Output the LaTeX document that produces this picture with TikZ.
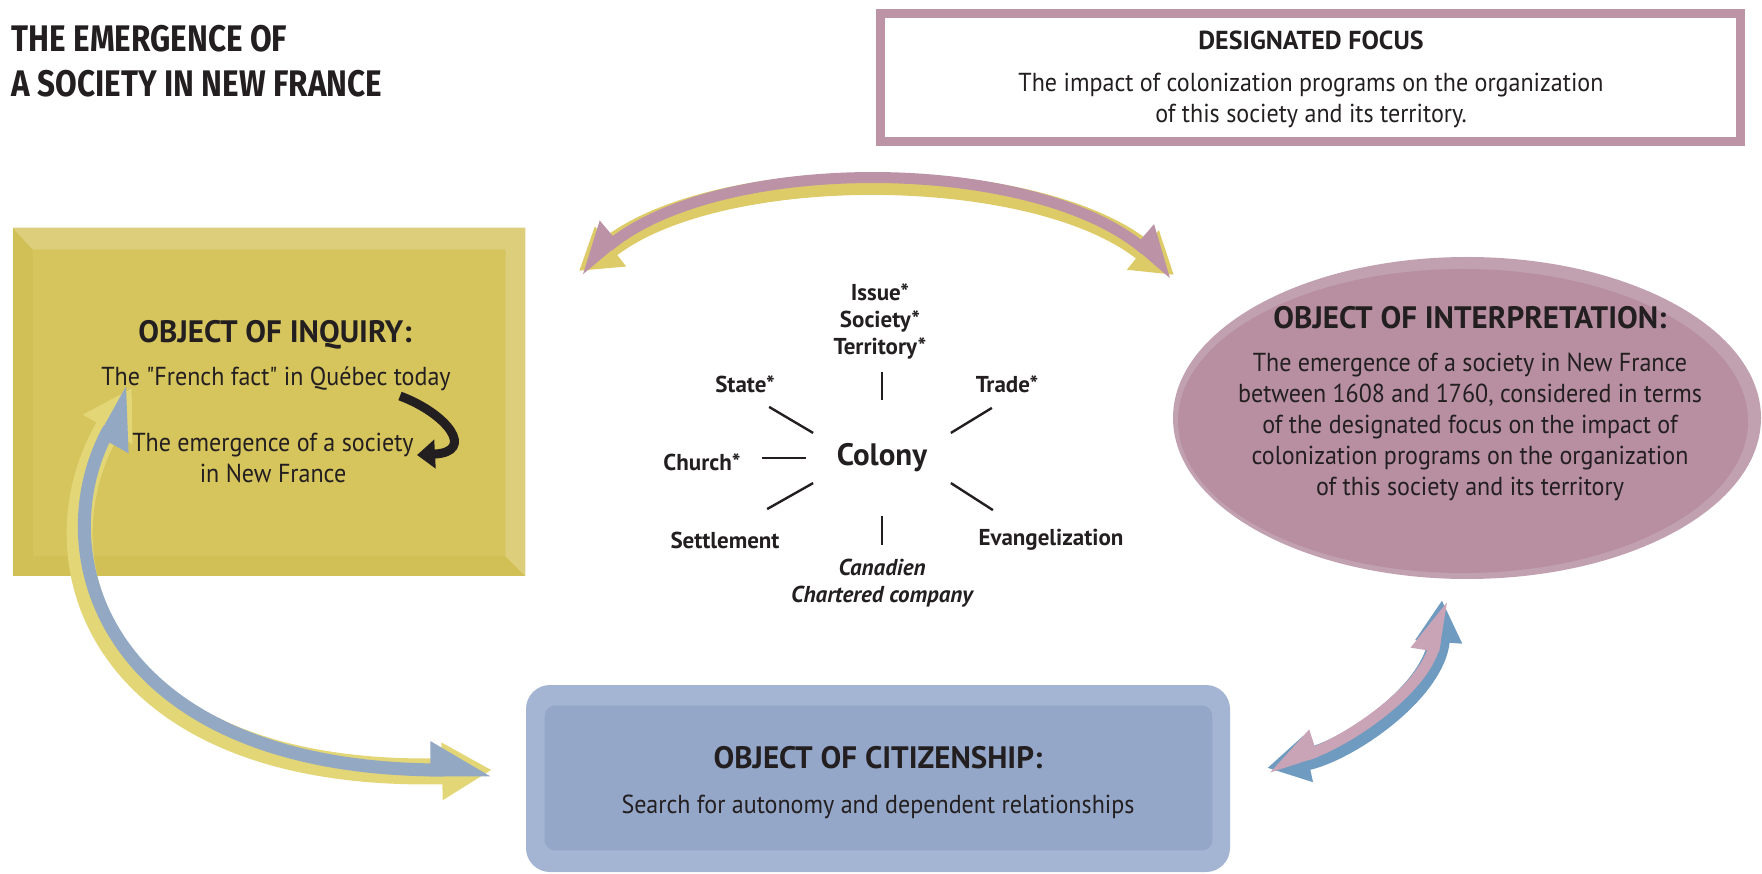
\documentclass[tikz,border=0pt]{standalone}
\usepackage{fontspec}
\setmainfont{PT Sans}[FakeStretch=0.925, Ligatures=TeXOff]
\newfontfamily\headfont{PT Sans}[FakeStretch=1.0, Ligatures=TeXOff]
\newfontfamily\titlefont{Fira Sans}[FakeStretch=0.85]
\usetikzlibrary{positioning}
\usetikzlibrary{arrows.meta}
\usetikzlibrary{shapes.geometric}
\tikzset{every picture/.style={semithick, >=Stealth}}
\definecolor{inkGrey}{HTML}{231F20}
\definecolor{focusMauve}{HTML}{BD93A6}
\definecolor{inqYellow}{HTML}{D6C45C}
\definecolor{inqLight}{HTML}{DDCE7C}
\definecolor{inqDark}{HTML}{D1C056}
\definecolor{intMauve}{HTML}{B88FA1}
\definecolor{intLight}{HTML}{C1A0B0}
\definecolor{citBlue}{HTML}{94A7C9}
\definecolor{citLight}{HTML}{A4B4D3}
\definecolor{arrYellow}{HTML}{E3D677}
\definecolor{arrGrey}{HTML}{93A8C3}
\definecolor{arrMauve}{HTML}{BC92A7}
\definecolor{arrPink}{HTML}{C9A3B6}
\definecolor{arrSteel}{HTML}{6F9BC0}
\definecolor{arrGold}{HTML}{DDCB68}
\tikzset{
    headline/.style={font=\headfont\fontsize{31}{36}\selectfont\bfseries, text=inkGrey},
    bodytext/.style={font=\fontsize{26}{31}\selectfont, text=inkGrey, align=center},
    keyword/.style={font=\headfont\fontsize{23}{27}\selectfont\bfseries, text=inkGrey, align=center},
    spoke/.style={line width=2.4pt, draw=inkGrey},
    band/.style={line width=#1, line cap=butt},
}

\begin{document}
\begin{tikzpicture}[x=1pt, y=-1pt]
    \useasboundingbox (0,0) rectangle (1762,874);

    % title
    \node[anchor=north west, align=left, text=inkGrey, font=\titlefont\bfseries\fontsize{37}{45}\selectfont] (title) at (8,22) {THE EMERGENCE OF\\A SOCIETY IN NEW FRANCE};

    % designated focus
    \node[draw=focusMauve, line width=9pt, minimum width=860pt, minimum height=128pt, inner sep=0pt] (focus) at (1310.5,77.5) {};
    \node[headline, font=\headfont\fontsize{26}{30}\selectfont\bfseries] (focushead) at (1311,40) {DESIGNATED FOCUS};
    \node[bodytext] (focustext) at (1311,100) {The impact of colonization programs on the organization\\of this society and its territory.};

    % object of inquiry
    \node[fill=inqDark, minimum width=512pt, minimum height=348pt, inner sep=0pt] (inquiry) at (269,402) {};
    \fill[inqLight] (inquiry.north west) -- (inquiry.north east) -- (inquiry.south east)
        -- ([shift={(-20pt,20pt)}]inquiry.south east) -- ([shift={(-20pt,-22pt)}]inquiry.north east)
        -- ([shift={(20pt,-22pt)}]inquiry.north west) -- cycle;
    \fill[inqYellow] ([shift={(20pt,-22pt)}]inquiry.north west) rectangle ([shift={(-20pt,20pt)}]inquiry.south east);
    \node[headline] (inqhead) at (275,335) {OBJECT OF INQUIRY:};
    \node[bodytext] (fact) at (276,379) {The "French fact" in Québec today};
    \node[bodytext] (emerge) at (273,458) {The emergence of a society\\in New France};
    \coordinate (factEnd) at (400,396);
    \coordinate (emergeEnd) at (417,455);
    \draw[line width=9pt, inkGrey, -{Triangle[length=18pt,width=28pt]}] (factEnd) .. controls (448,414) and (476,452) .. (emergeEnd);

    % object of interpretation
    \node[ellipse, fill=intLight, minimum width=588pt, minimum height=322pt] (interp) at (1467,418) {};
    \node[ellipse, fill=intMauve, minimum width=570pt, minimum height=304pt] (interpin) at (1463,421) {};
    \node[headline] (inthead) at (1470,318) {OBJECT OF INTERPRETATION:};
    \node[bodytext] (inttext) at (1470,427) {The emergence of a society in New France\\between 1608 and 1760, considered in terms\\of the designated focus on the impact of\\colonization programs on the organization\\of this society and its territory};

    % object of citizenship
    \node[fill=citLight, rounded corners=24pt, minimum width=704pt, minimum height=187pt] (citizen) at (878,778.5) {};
    \fill[citBlue, rounded corners=10pt] ([shift={(19pt,-21pt)}]citizen.north west) rectangle ([shift={(-18pt,22pt)}]citizen.south east);
    \node[headline] (cithead) at (878,758) {OBJECT OF CITIZENSHIP:};
    \node[bodytext] (cittext) at (878,807) {Search for autonomy and dependent relationships};

    % colony and its concepts
    \node[ellipse, minimum width=152pt, minimum height=116pt, inner sep=0pt, font=\headfont\fontsize{31}{36}\selectfont\bfseries, text=inkGrey] (colony) at (882,458) {Colony};
    \node[keyword] (issue) at (880,321) {Issue*\\Society*\\Territory*};
    \node[keyword] (state) at (745,384) {State*};
    \node[keyword] (trade) at (1007,384) {Trade*};
    \node[keyword] (church) at (702,462) {Church*};
    \node[keyword] (settle) at (725,540) {Settlement};
    \node[keyword] (evang) at (1051,540) {Evangelization};
    \node[keyword, font=\headfont\fontsize{23}{27}\selectfont\bfseries\itshape] (company) at (882,583) {Canadien\\Chartered company};
    \draw[spoke] (colony.north) -- ++(0,-28);
    \draw[spoke] (colony.160) -- ++(-44,-26);
    \draw[spoke] (colony.20) -- ++(41,-25);
    \draw[spoke] (colony.west) -- ++(-44,0);
    \draw[spoke] (colony.200) -- ++(-46,26);
    \draw[spoke] (colony.340) -- ++(42,27);
    \draw[spoke] (colony.south) -- ++(0,29);

    % inquiry <-> interpretation
    \coordinate (arcL) at (579,271);
    \coordinate (arcR) at (1174,275);
    \draw[band=22pt, arrGold, {Triangle[length=40pt,width=48pt]}-{Triangle[length=40pt,width=48pt]}] (arcL) .. controls (720,161) and (1035,163) .. (arcR);
    \draw[band=11pt, arrMauve, {Triangle[length=40pt,width=48pt,right]}-{Triangle[length=40pt,width=48pt,left]}] (arcL) .. controls (720,153) and (1035,155) .. (arcR);

    % inquiry <-> citizenship
    \coordinate (inqTip) at (132,388);
    \coordinate (citTip) at (492,770);
    \draw[band=26pt, arrYellow, {Triangle[length=48pt,width=54pt]}-{Triangle[length=50pt,width=54pt]}] (inqTip) .. controls (30,560) and (100,780) .. (citTip);
    \draw[band=13pt, arrGrey, {Triangle[length=48pt,width=54pt,right]}-{Triangle[length=50pt,width=54pt,left]}] (inqTip) .. controls (40,553) and (104,770) .. (citTip);

    % citizenship <-> interpretation
    \coordinate (citTipR) at (1267,768);
    \coordinate (intTip) at (1442,600);
    \draw[band=22pt, arrSteel, {Triangle[length=42pt,width=44pt]}-{Triangle[length=42pt,width=44pt]}] (citTipR) .. controls (1350,750) and (1435,690) .. (intTip);
    \draw[band=11pt, arrPink, {Triangle[length=42pt,width=44pt,right]}-{Triangle[length=42pt,width=44pt,left]}] (citTipR) .. controls (1347,742) and (1428,688) .. (intTip);
\end{tikzpicture}
\end{document}
